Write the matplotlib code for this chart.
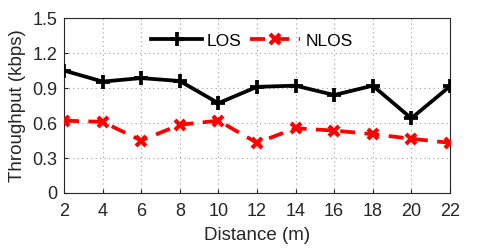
import matplotlib
matplotlib.use("Agg")
import matplotlib.pyplot as plt

distance = [2, 4, 6, 8, 10, 12, 14, 16, 18, 20, 22]
los = [1.05, 0.955, 0.985, 0.96, 0.77, 0.91, 0.92, 0.84, 0.92, 0.64, 0.915]
nlos = [0.62, 0.61, 0.45, 0.585, 0.62, 0.43, 0.555, 0.535, 0.505, 0.465, 0.43]
yticks = [0, 0.3, 0.6, 0.9, 1.2, 1.5]
yticklabels = ["0", "0.3", "0.6", "0.9", "1.2", "1.5"]

plt.rcParams['font.family'] = ['Liberation Sans', 'DejaVu Sans']
txt = '#262626'

fig = plt.figure(figsize=(4.98, 2.49), dpi=100)
ax = fig.add_axes([0.1285, 0.2249, 0.775, 0.7028])

ax.plot(distance, los, color='black', linewidth=2.7, marker='+', markersize=10.5,
        markeredgewidth=2.7, label='LOS', zorder=3)
ax.plot(distance, nlos, color='red', linewidth=2.7, linestyle=(0, (4, 2.5)), marker='x',
        markersize=7.5, markeredgewidth=3, label='NLOS', zorder=3)

ax.set_xlim(2, 22)
ax.set_ylim(0, 1.5)
ax.set_xticks(distance)
ax.set_yticks(yticks)
ax.set_yticklabels(yticklabels)
ax.tick_params(direction='in', labelsize=13, length=3, color=txt, labelcolor=txt)
ax.tick_params(axis='x', pad=7)
ax.tick_params(axis='y', pad=5)
ax.grid(True, linestyle=(0, (1, 3)), color='#a0a0a0', linewidth=0.8)
for s in ax.spines.values():
    s.set_color(txt)
    s.set_linewidth(0.8)

ax.set_xlabel('Distance (m)', fontsize=13.5, labelpad=5, color=txt)
ax.set_ylabel('Throughput (kbps)', fontsize=13.5, labelpad=4, color=txt)

leg = ax.legend(loc='center', bbox_to_anchor=(0.487, 0.869), ncol=2, frameon=False,
                fontsize=12.5, handlelength=2.9, columnspacing=0.45, handletextpad=0.3)

fig.savefig('out.png', dpi=100)
